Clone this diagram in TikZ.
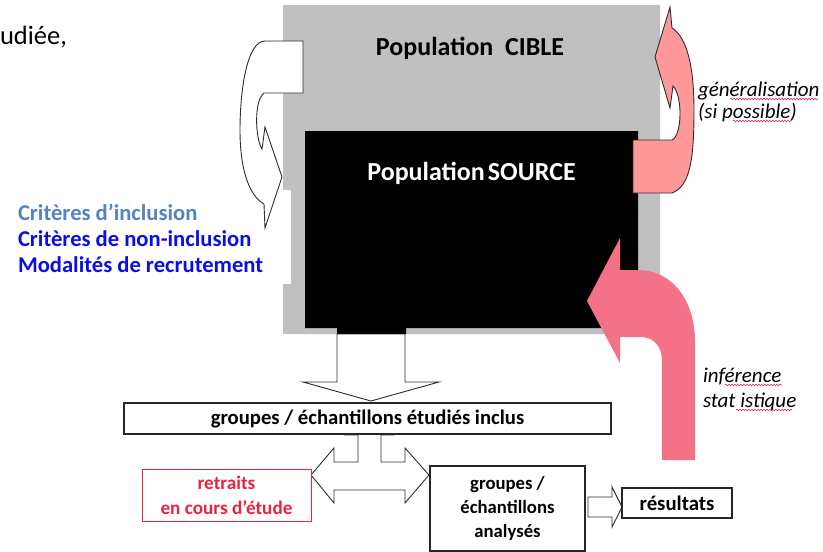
\documentclass[tikz,border=0pt]{standalone}
\usepackage{fontspec}
\setmainfont{Carlito}
\usetikzlibrary{decorations.pathmorphing}
\definecolor{cgray}{RGB}{192,192,192}
\definecolor{genpink}{RGB}{255,153,153}
\definecolor{infpink}{RGB}{243,114,135}
\definecolor{critlight}{RGB}{84,130,195}
\definecolor{critblue}{RGB}{12,12,235}
\definecolor{retred}{RGB}{232,36,64}
\definecolor{outl}{RGB}{45,45,45}
\definecolor{spell}{RGB}{225,40,90}
\tikzset{
  shapeline/.style={draw=outl, line width=0.9pt, line join=miter},
  whitearrow/.style={shapeline, fill=white},
  txtbox/.style={draw=black!85, line width=1.2pt, fill=white, inner sep=0pt, align=center},
  spellmark/.style={draw=spell, line width=0.6pt, decorate, decoration={snake, segment length=3pt, amplitude=0.8pt}},
  lbl/.style={inner sep=0pt, outer sep=0pt},
}
\begin{document}
\begin{tikzpicture}[x=1pt,y=-1pt]
\useasboundingbox (0,0) rectangle (823,552);
% population cible (gray) and source (black)
\fill[cgray] (283,5) -- (660,5) -- (660,334) -- (283,334) -- (283,284) -- (291,284) -- (291,190) -- (283,190) -- cycle;
\fill[black] (305,131) -- (638,131) -- (638,328) -- (406,328) -- (406,334) -- (337,334) -- (337,328) -- (305,328) -- cycle;
\node[lbl, anchor=base, font=\fontsize{26}{31}\selectfont\bfseries] (cible) at (470,55) {Population\hspace{0.45em}CIBLE};
\node[lbl, anchor=base, text=white, font=\fontsize{26}{31}\selectfont\bfseries] (source) at (471.5,180) {Population\hspace{0.12em}SOURCE};
% left curved arrow
\draw[whitearrow] (303,41) -- (265,41) .. controls (247,41) and (240,90) .. (240,130) .. controls (240,172) and (250,196) .. (264,204) -- (265,228) -- (282,177) -- (265,127) -- (262,149) .. controls (255,138) and (254,100) .. (264,93) -- (303,93) -- cycle;
% generalisation arrow
\draw[shapeline, fill=genpink] (633,140) -- (672,140) .. controls (682,136) and (683,96) .. (673,86) -- (670,108) -- (655,57) -- (670,7) -- (672,28) .. controls (688,38) and (694,70) .. (694,110) .. controls (694,160) and (690,186) .. (672,193) -- (633,193) -- cycle;
% inference arrow
\fill[infpink] (662,460) -- (662,362) .. controls (662,346) and (654,337) .. (640,337) -- (620,337) -- (620,363) -- (587,301) -- (620,238) -- (620,270) -- (638,270) .. controls (672,270) and (695,300) .. (695,342) -- (695,460) -- cycle;
% down arrow
\draw[whitearrow] (337,334) -- (405,334) -- (405,382) -- (439,382) -- (371,401) -- (303,382) -- (337,382) -- cycle;
% left-right-up arrow
\draw[whitearrow] (358,462) -- (334,462) -- (334,448) -- (311,475) -- (334,503) -- (334,490) -- (405,490) -- (405,503) -- (429,475) -- (405,448) -- (405,462) -- (381,462) -- (381,435) -- (393,435) -- (369.5,412) -- (345,435) -- (358,435) -- cycle;
% boxes
\node[txtbox, minimum width=487pt, minimum height=31pt, font=\fontsize{20.7}{24}\selectfont\bfseries] (inclus) at (367.5,418.5) {groupes / échantillons étudiés inclus};
\node[txtbox, draw=retred, line width=1pt, text=retred, minimum width=169pt, minimum height=52pt, font=\fontsize{19.2}{25}\selectfont\bfseries] (retraits) at (226.5,495) {retraits\\en cours d’étude};
\node[txtbox, minimum width=155pt, minimum height=85pt, font=\fontsize{18.7}{24}\selectfont\bfseries] (analyses) at (507.5,508.5) {groupes /\\échantillons\\analysés};
\draw[whitearrow] (588,497) -- (612,497) -- (612,487) -- (622,507) -- (612,527) -- (612,517) -- (588,517) -- cycle;
\node[txtbox, minimum width=110pt, minimum height=30pt, font=\fontsize{20.8}{24}\selectfont\bfseries] (result) at (677,503) {résultats};
% criteria text
\node[lbl, anchor=base west, text=critlight, font=\fontsize{22.6}{27}\selectfont\bfseries] (crit1) at (18,220) {Critères d'inclusion};
\node[lbl, anchor=base west, text=critblue, font=\fontsize{22.6}{27}\selectfont\bfseries] (crit2) at (18,246) {Critères de non-inclusion};
\node[lbl, anchor=base west, text=critblue, font=\fontsize{22.6}{27}\selectfont\bfseries] (crit3) at (18,272) {Modalités de recrutement};
\node[lbl, anchor=base west, font=\fontsize{26.5}{30}\selectfont] (etud) at (0,44) {udiée,};
% italic labels
\node[lbl, anchor=base west, font=\fontsize{21}{24}\selectfont\itshape] (gen1) at (698,96) {généralisation};
\node[lbl, anchor=base west, font=\fontsize{21}{24}\selectfont\itshape] (gen2) at (698,118) {(si possible)};
\node[lbl, anchor=base west, font=\fontsize{21}{24}\selectfont\itshape] (inf1) at (703,382) {inférence};
\node[lbl, anchor=base west, font=\fontsize{21}{24}\selectfont\itshape] (inf2) at (703,407) {stat istique};
\draw[spellmark] (730,99) -- (818,99);
\draw[spellmark] (733,121) -- (791,121);
\draw[spellmark] (725,385) -- (782,385);
\draw[spellmark] (736,410) -- (792,410);
\end{tikzpicture}
\end{document}
